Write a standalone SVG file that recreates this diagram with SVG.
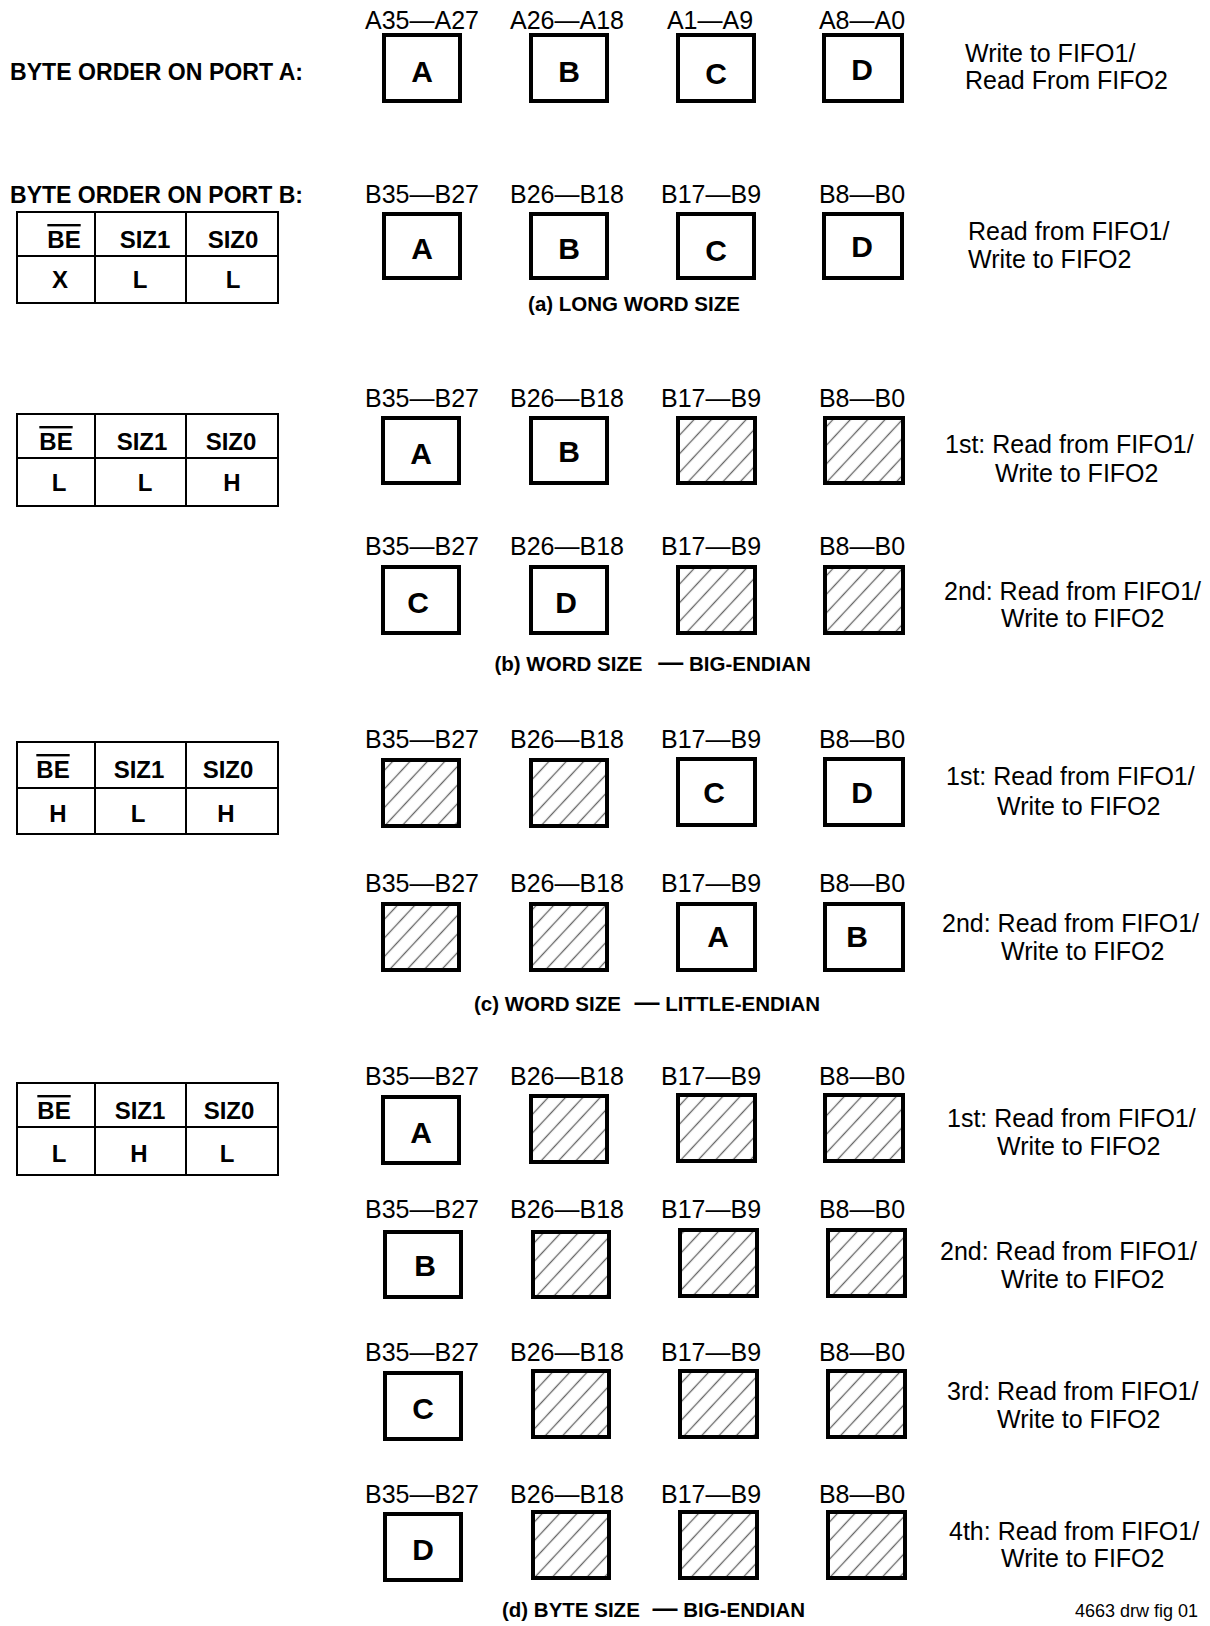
<svg xmlns="http://www.w3.org/2000/svg" width="1210" height="1626" viewBox="0 0 1210 1626">
<defs>
<pattern id="hatch" patternUnits="userSpaceOnUse" width="12.7" height="10" patternTransform="rotate(43)">
<rect width="12.7" height="10" fill="#fff"/>
<line x1="6.35" y1="-1" x2="6.35" y2="11" stroke="#666" stroke-width="1.3"/>
</pattern>
</defs>
<style>
.box{fill:#fff;stroke:#000;stroke-width:4}
.hb{fill:url(#hatch);stroke:#000;stroke-width:4}
.lbl{font-family:"Liberation Sans",Arial,sans-serif;font-size:25px;text-anchor:middle;fill:#000}
.let{font-family:"Liberation Sans",Arial,sans-serif;font-size:30px;font-weight:bold;text-anchor:middle;fill:#000}
.note{font-family:"Liberation Sans",Arial,sans-serif;font-size:25px;fill:#000}
.tbl{fill:#fff;stroke:#000;stroke-width:2}
.tl{stroke:#000;stroke-width:2}
.th{font-family:"Liberation Sans",Arial,sans-serif;font-size:24px;font-weight:bold;text-anchor:middle;fill:#000}
.ov{text-decoration:overline}
.cap{font-family:"Liberation Sans",Arial,sans-serif;font-size:20.5px;font-weight:bold;fill:#000}
.dash{font-size:25px}
.hdr{font-family:"Liberation Sans",Arial,sans-serif;font-size:24px;font-weight:bold;fill:#000}
.fig{font-family:"Liberation Sans",Arial,sans-serif;font-size:18px;fill:#000}
</style>
<rect width="1210" height="1626" fill="#fff"/>

<g id="heading-port-a"><text class="hdr" x="10" y="80" textLength="293" lengthAdjust="spacingAndGlyphs">BYTE ORDER ON PORT A:</text></g>
<g id="heading-port-b"><text class="hdr" x="10" y="203" textLength="293" lengthAdjust="spacingAndGlyphs">BYTE ORDER ON PORT B:</text></g>

<!-- Row a, port A -->
<g id="aA-1"><text class="lbl" x="422" y="29">A35—A27</text><rect class="box" x="384" y="35" width="76" height="66"/><text class="let" x="422" y="82">A</text></g>
<g id="aA-2"><text class="lbl" x="567" y="29">A26—A18</text><rect class="box" x="531" y="35" width="76" height="66"/><text class="let" x="569" y="82">B</text></g>
<g id="aA-3"><text class="lbl" x="710" y="29">A1—A9</text><rect class="box" x="678" y="35" width="76" height="66"/><text class="let" x="716" y="84">C</text></g>
<g id="aA-4"><text class="lbl" x="862" y="29">A8—A0</text><rect class="box" x="824" y="35" width="78" height="66"/><text class="let" x="862" y="80">D</text></g>
<g id="aA-note"><text class="note" x="965" y="62">Write to FIFO1/</text><text class="note" x="965" y="89">Read From FIFO2</text></g>

<!-- Table a -->
<g id="table-a">
<rect class="tbl" x="17" y="212" width="261" height="91"/>
<line class="tl" x1="17" y1="256" x2="278" y2="256"/>
<line class="tl" x1="95" y1="212" x2="95" y2="303"/>
<line class="tl" x1="186" y1="212" x2="186" y2="303"/>
<text class="th ov" x="64" y="248">BE</text><text class="th" x="145" y="248">SIZ1</text><text class="th" x="233" y="248">SIZ0</text>
<text class="th" x="60" y="288">X</text><text class="th" x="140" y="288">L</text><text class="th" x="233" y="288">L</text>
</g>

<!-- Row a, port B -->
<g id="aB-1"><text class="lbl" x="422" y="203">B35—B27</text><rect class="box" x="384" y="214" width="76" height="64"/><text class="let" x="422" y="259">A</text></g>
<g id="aB-2"><text class="lbl" x="567" y="203">B26—B18</text><rect class="box" x="531" y="214" width="76" height="64"/><text class="let" x="569" y="259">B</text></g>
<g id="aB-3"><text class="lbl" x="711" y="203">B17—B9</text><rect class="box" x="678" y="214" width="76" height="64"/><text class="let" x="716" y="261">C</text></g>
<g id="aB-4"><text class="lbl" x="862" y="203">B8—B0</text><rect class="box" x="824" y="214" width="78" height="64"/><text class="let" x="862" y="257">D</text></g>
<g id="aB-note"><text class="note" x="968" y="240">Read from FIFO1/</text><text class="note" x="968" y="268">Write to FIFO2</text></g>
<g id="cap-a"><text class="cap" x="634" y="311" text-anchor="middle">(a) LONG WORD SIZE</text></g>

<!-- Table b -->
<g id="table-b">
<rect class="tbl" x="17" y="414" width="261" height="92"/>
<line class="tl" x1="17" y1="458" x2="278" y2="458"/>
<line class="tl" x1="95" y1="414" x2="95" y2="506"/>
<line class="tl" x1="186" y1="414" x2="186" y2="506"/>
<text class="th ov" x="56" y="450">BE</text><text class="th" x="142" y="450">SIZ1</text><text class="th" x="231" y="450">SIZ0</text>
<text class="th" x="59" y="491">L</text><text class="th" x="145" y="491">L</text><text class="th" x="232" y="491">H</text>
</g>

<!-- Row b1 -->
<g id="b1-1"><text class="lbl" x="422" y="407">B35—B27</text><rect class="box" x="383" y="418" width="76" height="65"/><text class="let" x="421" y="464">A</text></g>
<g id="b1-2"><text class="lbl" x="567" y="407">B26—B18</text><rect class="box" x="531" y="418" width="76" height="65"/><text class="let" x="569" y="462">B</text></g>
<g id="b1-3"><text class="lbl" x="711" y="407">B17—B9</text><rect class="hb" x="678" y="418" width="77" height="65"/></g>
<g id="b1-4"><text class="lbl" x="862" y="407">B8—B0</text><rect class="hb" x="825" y="418" width="78" height="65"/></g>
<g id="b1-note"><text class="note" x="945" y="453">1st: Read from FIFO1/</text><text class="note" x="995" y="482">Write to FIFO2</text></g>

<!-- Row b2 -->
<g id="b2-1"><text class="lbl" x="422" y="555">B35—B27</text><rect class="box" x="383" y="567" width="76" height="66"/><text class="let" x="418" y="613">C</text></g>
<g id="b2-2"><text class="lbl" x="567" y="555">B26—B18</text><rect class="box" x="531" y="567" width="76" height="66"/><text class="let" x="566" y="613">D</text></g>
<g id="b2-3"><text class="lbl" x="711" y="555">B17—B9</text><rect class="hb" x="678" y="567" width="77" height="66"/></g>
<g id="b2-4"><text class="lbl" x="862" y="555">B8—B0</text><rect class="hb" x="825" y="567" width="78" height="66"/></g>
<g id="b2-note"><text class="note" x="944" y="600">2nd: Read from FIFO1/</text><text class="note" x="1001" y="627">Write to FIFO2</text></g>
<g id="cap-b"><text class="cap" x="494.5" y="671">(b) WORD SIZE <tspan class="dash" dx="10">—</tspan> BIG-ENDIAN</text></g>

<!-- Table c -->
<g id="table-c">
<rect class="tbl" x="17" y="742" width="261" height="92"/>
<line class="tl" x1="17" y1="788" x2="278" y2="788"/>
<line class="tl" x1="95" y1="742" x2="95" y2="834"/>
<line class="tl" x1="186" y1="742" x2="186" y2="834"/>
<text class="th ov" x="53" y="778">BE</text><text class="th" x="139" y="778">SIZ1</text><text class="th" x="228" y="778">SIZ0</text>
<text class="th" x="58" y="822">H</text><text class="th" x="138" y="822">L</text><text class="th" x="226" y="822">H</text>
</g>

<!-- Row c1 -->
<g id="c1-1"><text class="lbl" x="422" y="748">B35—B27</text><rect class="hb" x="383" y="760" width="76" height="66"/></g>
<g id="c1-2"><text class="lbl" x="567" y="748">B26—B18</text><rect class="hb" x="531" y="760" width="76" height="66"/></g>
<g id="c1-3"><text class="lbl" x="711" y="748">B17—B9</text><rect class="box" x="678" y="759" width="77" height="66"/><text class="let" x="714" y="803">C</text></g>
<g id="c1-4"><text class="lbl" x="862" y="748">B8—B0</text><rect class="box" x="825" y="759" width="78" height="66"/><text class="let" x="862" y="803">D</text></g>
<g id="c1-note"><text class="note" x="946" y="785">1st: Read from FIFO1/</text><text class="note" x="997" y="815">Write to FIFO2</text></g>

<!-- Row c2 -->
<g id="c2-1"><text class="lbl" x="422" y="892">B35—B27</text><rect class="hb" x="383" y="904" width="76" height="66"/></g>
<g id="c2-2"><text class="lbl" x="567" y="892">B26—B18</text><rect class="hb" x="531" y="904" width="76" height="66"/></g>
<g id="c2-3"><text class="lbl" x="711" y="892">B17—B9</text><rect class="box" x="678" y="904" width="77" height="66"/><text class="let" x="718" y="947">A</text></g>
<g id="c2-4"><text class="lbl" x="862" y="892">B8—B0</text><rect class="box" x="825" y="904" width="78" height="66"/><text class="let" x="857" y="947">B</text></g>
<g id="c2-note"><text class="note" x="942" y="932">2nd: Read from FIFO1/</text><text class="note" x="1001" y="960">Write to FIFO2</text></g>
<g id="cap-c"><text class="cap" x="474" y="1011">(c) WORD SIZE <tspan class="dash" dx="8">—</tspan> LITTLE-ENDIAN</text></g>

<!-- Table d -->
<g id="table-d">
<rect class="tbl" x="17" y="1083" width="261" height="92"/>
<line class="tl" x1="17" y1="1127" x2="278" y2="1127"/>
<line class="tl" x1="95" y1="1083" x2="95" y2="1175"/>
<line class="tl" x1="186" y1="1083" x2="186" y2="1175"/>
<text class="th ov" x="54" y="1119">BE</text><text class="th" x="140" y="1119">SIZ1</text><text class="th" x="229" y="1119">SIZ0</text>
<text class="th" x="59" y="1162">L</text><text class="th" x="139" y="1162">H</text><text class="th" x="227" y="1162">L</text>
</g>

<!-- Row d1 -->
<g id="d1-1"><text class="lbl" x="422" y="1085">B35—B27</text><rect class="box" x="383" y="1097" width="76" height="66"/><text class="let" x="421" y="1143">A</text></g>
<g id="d1-2"><text class="lbl" x="567" y="1085">B26—B18</text><rect class="hb" x="531" y="1096" width="76" height="66"/></g>
<g id="d1-3"><text class="lbl" x="711" y="1085">B17—B9</text><rect class="hb" x="678" y="1095" width="77" height="66"/></g>
<g id="d1-4"><text class="lbl" x="862" y="1085">B8—B0</text><rect class="hb" x="825" y="1095" width="78" height="66"/></g>
<g id="d1-note"><text class="note" x="947" y="1127">1st: Read from FIFO1/</text><text class="note" x="997" y="1155">Write to FIFO2</text></g>

<!-- Row d2 -->
<g id="d2-1"><text class="lbl" x="422" y="1218">B35—B27</text><rect class="box" x="385" y="1232" width="76" height="65"/><text class="let" x="425" y="1276">B</text></g>
<g id="d2-2"><text class="lbl" x="567" y="1218">B26—B18</text><rect class="hb" x="533" y="1232" width="76" height="65"/></g>
<g id="d2-3"><text class="lbl" x="711" y="1218">B17—B9</text><rect class="hb" x="680" y="1230" width="77" height="66"/></g>
<g id="d2-4"><text class="lbl" x="862" y="1218">B8—B0</text><rect class="hb" x="828" y="1230" width="77" height="66"/></g>
<g id="d2-note"><text class="note" x="940" y="1260">2nd: Read from FIFO1/</text><text class="note" x="1001" y="1288">Write to FIFO2</text></g>

<!-- Row d3 -->
<g id="d3-1"><text class="lbl" x="422" y="1361">B35—B27</text><rect class="box" x="385" y="1373" width="76" height="66"/><text class="let" x="423" y="1419">C</text></g>
<g id="d3-2"><text class="lbl" x="567" y="1361">B26—B18</text><rect class="hb" x="533" y="1371" width="76" height="66"/></g>
<g id="d3-3"><text class="lbl" x="711" y="1361">B17—B9</text><rect class="hb" x="680" y="1371" width="77" height="66"/></g>
<g id="d3-4"><text class="lbl" x="862" y="1361">B8—B0</text><rect class="hb" x="828" y="1371" width="77" height="66"/></g>
<g id="d3-note"><text class="note" x="947" y="1400">3rd: Read from FIFO1/</text><text class="note" x="997" y="1428">Write to FIFO2</text></g>

<!-- Row d4 -->
<g id="d4-1"><text class="lbl" x="422" y="1503">B35—B27</text><rect class="box" x="385" y="1514" width="76" height="66"/><text class="let" x="423" y="1560">D</text></g>
<g id="d4-2"><text class="lbl" x="567" y="1503">B26—B18</text><rect class="hb" x="533" y="1512" width="76" height="66"/></g>
<g id="d4-3"><text class="lbl" x="711" y="1503">B17—B9</text><rect class="hb" x="680" y="1512" width="77" height="66"/></g>
<g id="d4-4"><text class="lbl" x="862" y="1503">B8—B0</text><rect class="hb" x="828" y="1512" width="77" height="66"/></g>
<g id="d4-note"><text class="note" x="949" y="1540">4th: Read from FIFO1/</text><text class="note" x="1001" y="1567">Write to FIFO2</text></g>
<g id="cap-d"><text class="cap" x="502" y="1617">(d) BYTE SIZE <tspan class="dash" dx="7">—</tspan> BIG-ENDIAN</text></g>

<g id="fig-id"><text class="fig" x="1075" y="1617">4663 drw fig 01</text></g>
</svg>
